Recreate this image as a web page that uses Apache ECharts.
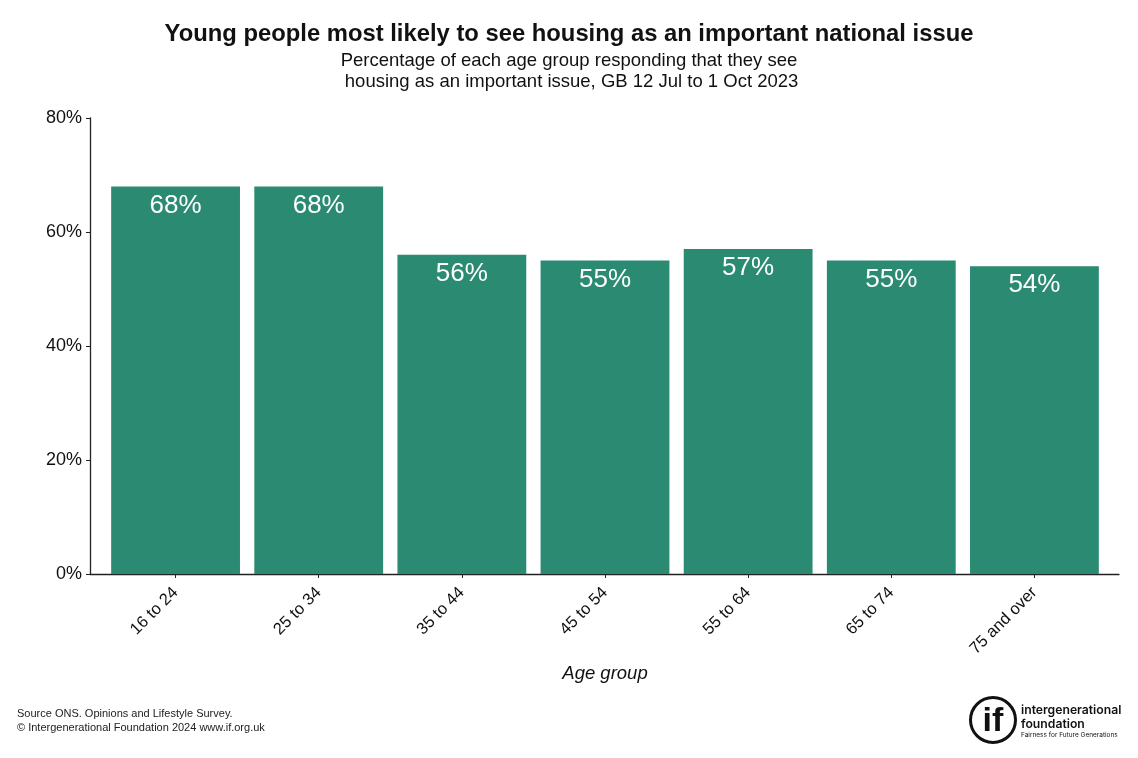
<!DOCTYPE html>
<html>
<head>
<meta charset="utf-8">
<style>
  html, body { margin: 0; padding: 0; background: #ffffff; }
  #chart { width: 1138px; height: 758px; }
</style>
<script src="https://cdn.jsdelivr.net/npm/echarts@6/dist/echarts.min.js"></script>
</head>
<body>
<div id="chart"></div>
<script>
// Age groups and share who see housing as an important issue (%)
const ageGroups = ['16 to 24', '25 to 34', '35 to 44', '45 to 54', '55 to 64', '65 to 74', '75 and over'];
const housingShare = [68, 68, 56, 55, 57, 55, 54];
const yTicks = [0, 20, 40, 60, 80];

const FONT = '"Liberation Sans", Arial, sans-serif';
const BAR_COLOR = '#2b8b72';

const chart = echarts.init(document.getElementById('chart'), null, { renderer: 'canvas' });

chart.setOption({
  backgroundColor: '#ffffff',
  animation: false,
  title: [
    {
      text: 'Young people most likely to see housing as an important national issue',
      left: 'center',
      top: 17,
      textStyle: { fontFamily: FONT, fontSize: 23.8, fontWeight: 'bold', color: '#111' }
    },
    {
      text: 'Percentage of each age group responding that they see\n housing as an important issue, GB 12 Jul to 1 Oct 2023',
      left: 'center',
      top: 45,
      textStyle: { fontFamily: FONT, fontSize: 18.5, fontWeight: 'normal', color: '#111', lineHeight: 21 }
    }
  ],
  grid: [
    // frame grid: axis lines and y ticks
    { left: 90, right: 19, top: 118, bottom: 184 },
    // bar grid: categories sit inside the frame with a small margin
    { left: 104, right: 32, top: 118, bottom: 184 }
  ],
  xAxis: [
    {
      gridIndex: 0, type: 'value', min: 0, max: 1,
      axisLine: { show: true, lineStyle: { color: '#222', width: 1.3 } },
      axisTick: { show: false }, axisLabel: { show: false }, splitLine: { show: false }
    },
    {
      gridIndex: 1, type: 'category', data: ageGroups,
      axisLine: { show: false },
      axisTick: { show: true, alignWithLabel: true, length: 4, lineStyle: { color: '#222' } },
      axisLabel: { rotate: 45, margin: 16, fontFamily: FONT, fontSize: 16.5, color: '#111' },
      name: 'Age group',
      nameLocation: 'middle',
      nameGap: 89,
      nameTextStyle: { fontFamily: FONT, fontSize: 18.5, fontStyle: 'italic', color: '#111' }
    }
  ],
  yAxis: [
    {
      gridIndex: 0, type: 'value', min: yTicks[0], max: yTicks[yTicks.length - 1], interval: 20,
      axisLine: { show: true, lineStyle: { color: '#222', width: 1.3 } },
      axisTick: { show: true, length: 4, lineStyle: { color: '#222' } },
      axisLabel: { margin: 8, fontFamily: FONT, fontSize: 18, color: '#111', formatter: '{value}%' },
      splitLine: { show: false }
    },
    {
      gridIndex: 1, type: 'value', min: yTicks[0], max: yTicks[yTicks.length - 1], interval: 20,
      show: false
    }
  ],
  series: [
    {
      type: 'bar',
      xAxisIndex: 1,
      yAxisIndex: 1,
      data: housingShare,
      barWidth: '90%',
      itemStyle: { color: BAR_COLOR },
      label: {
        show: true,
        position: 'insideTop',
        distance: 6,
        formatter: '{c}%',
        fontFamily: FONT,
        fontSize: 26,
        color: '#ffffff'
      }
    }
  ],
  graphic: [
    {
      type: 'text', left: 17, top: 707,
      style: {
        text: 'Source ONS. Opinions and Lifestyle Survey.\n\u00A9 Intergenerational Foundation 2024 www.if.org.uk',
        font: '11px ' + FONT, fill: '#222', lineHeight: 14
      }
    },
    {
      type: 'group', left: 969, top: 696,
      children: [
        { type: 'circle', shape: { cx: 25, cy: 24, r: 22.5 }, style: { fill: '#fff', stroke: '#111', lineWidth: 3 } },
        { type: 'text', style: { x: 25, y: 26, text: 'if', align: 'center', verticalAlign: 'middle', font: 'bold 34px ' + FONT, fill: '#111' } },
        { type: 'text', style: { x: 53, y: 7, text: 'intergenerational\nfoundation', font: '600 12.2px Inter, "Noto Sans", sans-serif', fill: '#111', lineHeight: 14 } },
        { type: 'text', style: { x: 53, y: 36, text: 'Fairness for Future Generations', font: '6.5px Inter, "Noto Sans", sans-serif', fill: '#111' } }
      ]
    }
  ]
});
</script>
</body>
</html>
